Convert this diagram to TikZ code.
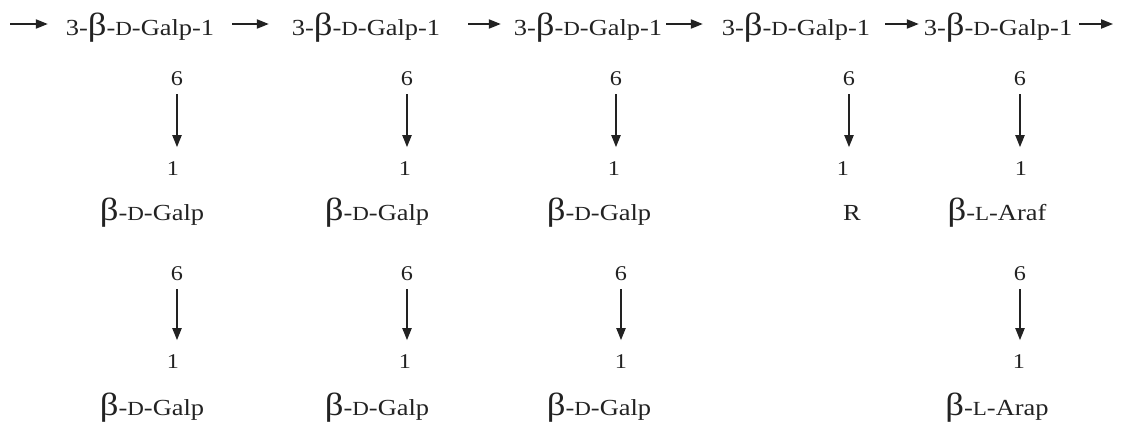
\documentclass[tikz,border=0pt]{standalone}
\usepackage{fontspec}
\setmainfont[FakeStretch=1.15]{Liberation Serif}
\usetikzlibrary{arrows.meta,positioning}
\definecolor{ink}{HTML}{222222}

\newcommand{\bet}{{\fontsize{16}{16}\selectfont β}}
\newcommand{\sml}[1]{{\fontsize{10}{10}\selectfont #1}}

\begin{document}
\begin{tikzpicture}[
  x=0.5pt,
  y=-0.5pt,
  unit/.style={
    inner sep=0pt,outer sep=0pt,anchor=base,text=ink,
    font=\fontsize{11.5}{14}\selectfont
  },
  linkno/.style={
    inner sep=0pt,outer sep=0pt,anchor=base,text=ink,
    font=\fontsize{10.5}{12}\selectfont
  },
  link/.style={
    -{Triangle[length=6pt,width=4.6pt]},line width=0.75pt,draw=ink
  },
  branch/.style={link,shorten <=4.5pt,shorten >=7pt}
]
  \useasboundingbox (0,0) rectangle (1125,434);

  % Main chain
  \node[unit] (m1) at (140,35) {3-\bet-\sml{D}-Galp-1};
  \node[unit] (m2) at (366,35) {3-\bet-\sml{D}-Galp-1};
  \node[unit] (m3) at (588,35) {3-\bet-\sml{D}-Galp-1};
  \node[unit] (m4) at (796,35) {3-\bet-\sml{D}-Galp-1};
  \node[unit] (m5) at (998,35) {3-\bet-\sml{D}-Galp-1};
  \coordinate (in) at (10,24);
  \coordinate (out) at (1113,24);
  \draw[link,shorten >=9pt] (in) -- (in -| m1.west);
  \draw[link,shorten <=9pt,shorten >=11.5pt] (m1.east |- in) -- (m2.west |- in);
  \draw[link,shorten <=14pt,shorten >=6.5pt] (m2.east |- in) -- (m3.west |- in);
  \draw[link,shorten <=2pt,shorten >=9.5pt] (m3.east |- in) -- (m4.west |- in);
  \draw[link,shorten <=7.5pt,shorten >=2.5pt] (m4.east |- in) -- (m5.west |- in);
  \draw[link,shorten <=3.5pt] (m5.east |- in) -- (out);

  % Branch 1
  \node[linkno] (c1a6) at (177,85) {6};
  \node[linkno] (c1a1) at (173,175) {1};
  \node[unit] (c1a) at (152,220) {\bet-\sml{D}-Galp};
  \node[linkno] (c1b6) at (177,280) {6};
  \node[linkno] (c1b1) at (173,368) {1};
  \node[unit] (c1b) at (152,415) {\bet-\sml{D}-Galp};
  \draw[branch] (c1a6.south) -- (c1a6.south |- c1a1.north);
  \draw[branch] (c1b6.south) -- (c1b6.south |- c1b1.north);

  % Branch 2
  \node[linkno] (c2a6) at (407,85) {6};
  \node[linkno] (c2a1) at (405,175) {1};
  \node[unit] (c2a) at (377,220) {\bet-\sml{D}-Galp};
  \node[linkno] (c2b6) at (407,280) {6};
  \node[linkno] (c2b1) at (405,368) {1};
  \node[unit] (c2b) at (377,415) {\bet-\sml{D}-Galp};
  \draw[branch] (c2a6.south) -- (c2a6.south |- c2a1.north);
  \draw[branch] (c2b6.south) -- (c2b6.south |- c2b1.north);

  % Branch 3
  \node[linkno] (c3a6) at (616,85) {6};
  \node[linkno] (c3a1) at (614,175) {1};
  \node[unit] (c3a) at (599,220) {\bet-\sml{D}-Galp};
  \node[linkno] (c3b6) at (621,280) {6};
  \node[linkno] (c3b1) at (621,368) {1};
  \node[unit] (c3b) at (599,415) {\bet-\sml{D}-Galp};
  \draw[branch] (c3a6.south) -- (c3a6.south |- c3a1.north);
  \draw[branch] (c3b6.south) -- (c3b6.south |- c3b1.north);

  % Branch 4
  \node[linkno] (c4a6) at (849,85) {6};
  \node[linkno] (c4a1) at (843,175) {1};
  \node[unit] (c4a) at (852,220) {R};
  \draw[branch] (c4a6.south) -- (c4a6.south |- c4a1.north);

  % Branch 5
  \node[linkno] (c5a6) at (1020,85) {6};
  \node[linkno] (c5a1) at (1021,175) {1};
  \node[unit] (c5a) at (997,220) {\bet-\sml{L}-Araf};
  \node[linkno] (c5b6) at (1020,280) {6};
  \node[linkno] (c5b1) at (1019,368) {1};
  \node[unit] (c5b) at (997,415) {\bet-\sml{L}-Arap};
  \draw[branch] (c5a6.south) -- (c5a6.south |- c5a1.north);
  \draw[branch] (c5b6.south) -- (c5b6.south |- c5b1.north);
\end{tikzpicture}
\end{document}
